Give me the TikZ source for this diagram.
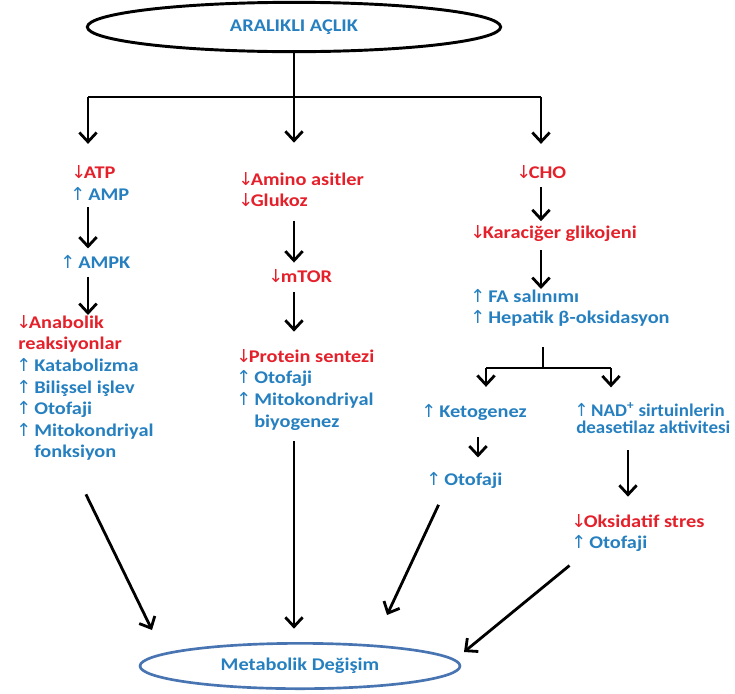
\documentclass[tikz,border=0pt]{standalone}
\usepackage{fontspec}
\setmainfont{Carlito}[FakeStretch=1.14]
\newfontfamily\arrfont{DejaVu Sans}
\usetikzlibrary{arrows.meta, shapes.geometric}

\definecolor{redtxt}{RGB}{228,32,42}
\definecolor{bluetxt}{RGB}{38,128,192}
\definecolor{ellblue}{RGB}{72,116,178}

\newcommand{\upar}{{\arrfont\mdseries\kern-0.1em↑\kern-0.1em}}
\newcommand{\dnar}{{\arrfont\mdseries\kern-0.1em↓\kern-0.15em}}
\newcommand{\up}[1]{\textcolor{bluetxt}{\upar\ #1}}
\newcommand{\dn}[1]{\textcolor{redtxt}{\dnar#1}}

\begin{document}
\begin{tikzpicture}[x=0.75pt, y=-0.75pt,
    txt/.style={inner sep=0pt, font=\bfseries\fontsize{13.4}{16.2}\selectfont, align=left},
    line/.style={line width=2.1pt},
    arr/.style={line, -{Straight Barb[length=7pt, width=13pt, line width=2.1pt]}},
    topell/.style={ellipse, draw, line width=2.2pt, minimum width=310pt, minimum height=37pt,
        text=bluetxt, font=\bfseries\fontsize{13.4}{15}\selectfont},
    botell/.style={ellipse, draw=ellblue, line width=2pt, minimum width=240pt, minimum height=34pt,
        text=bluetxt, font=\bfseries\fontsize{13.4}{15}\selectfont}]

    \useasboundingbox (0,0) rectangle (735,693);

    % ==========================================
    % 1. START AND END
    % ==========================================
    \node[topell] (fast) at (294,27) {ARALIKLI AÇLIK};
    \node[botell] (met) at (300,666) {Metabolik Değişim};

    \coordinate (hub) at (294,97);
    \coordinate (barL) at (88,97);
    \coordinate (barR) at (541,97);

    % ==========================================
    % 2. TEXT BLOCKS
    % ==========================================
    % left column
    \node[txt, anchor=base west] (atp) at (73,178.5) {\dn{ATP}};
    \node[txt, anchor=base west] (amp) at (72,200.5) {\up{AMP}};
    \node[txt, anchor=base west] (ampk) at (62,268.5) {\up{AMPK}};
    \node[txt, anchor=north west] (ana) at (18,315) {\dn{Anabolik}\\
        \textcolor{redtxt}{reaksiyonlar}\\
        \up{Katabolizma}\\
        \up{Bilişsel işlev}\\
        \up{Otofaji}\\
        \up{Mitokondriyal}\\
        \textcolor{bluetxt}{\hphantom{\upar\ }fonksiyon}};

    % middle column
    \node[txt, anchor=north west] (amino) at (240,172) {\dn{Amino asitler}\\ \dn{Glukoz}};
    \node[txt, anchor=base west] (mtor) at (270,282.5) {\dn{mTOR}};
    \node[txt, anchor=north west] (prot) at (238,349) {\dn{Protein sentezi}\\
        \up{Otofaji}\\
        \up{Mitokondriyal}\\
        \textcolor{bluetxt}{\hphantom{\upar\ }biyogenez}};

    % right column
    \node[txt, anchor=base west] (cho) at (518,178.5) {\dn{CHO}};
    \node[txt, anchor=base west] (kar) at (472,238.5) {\dn{Karaciğer glikojeni}};
    \node[txt, anchor=north west] (fa) at (472,289) {\up{FA salınımı}\\ \up{Hepatik β-oksidasyon}};
    \node[txt, anchor=base west] (keto) at (423,417.5) {\up{Ketogenez}};
    \node[txt, anchor=north west, xscale=0.93, transform shape,
        font=\bfseries\fontsize{13.4}{13.2}\selectfont] (nad) at (576,402)
        {\up{NAD\textsuperscript{+} sirtuinlerin}\\
        \textcolor{bluetxt}{deasetilaz aktivitesi}};
    \node[txt, anchor=base west] (oto) at (428,485.5) {\up{Otofaji}};
    \node[txt, anchor=north west] (oks) at (573,514) {\dn{Oksidatif stres}\\ \up{Otofaji}};

    \coordinate (hub2) at (543,368);
    \coordinate (kbL) at (486,368);
    \coordinate (kbR) at (611,368);

    % ==========================================
    % 3. CONNECTORS
    % ==========================================
    \draw[line] (fast.south -| hub) -- (hub);
    \draw[line] (barL) -- (barR);
    \draw[arr, shorten >=16pt] (barL) -- (atp.north -| barL);
    \draw[arr, shorten >=22pt] (hub) -- (amino.north -| hub);
    \draw[arr, shorten >=16pt] (barR) -- (cho.north -| barR);

    \draw[arr, shorten <=5pt, shorten >=5pt] (amp.south -| barL) -- (ampk.north -| barL);
    \draw[arr, shorten <=6pt] (ampk.south -| barL) -- (ana.north -| barL);

    \draw[arr, shorten <=10pt, shorten >=5pt] (amino.south -| hub) -- (mtor.north -| hub);
    \draw[arr, shorten <=7pt, shorten >=13pt] (mtor.south -| hub) -- (prot.north -| hub);

    \draw[arr, shorten <=6pt, shorten >=3pt] (cho.south -| barR) -- (kar.north -| barR);
    \draw[arr, shorten <=6pt] (kar.south -| barR) -- (fa.north -| barR);
    \draw[line, shorten <=15pt] (fa.south -| hub2) -- (hub2);
    \draw[line] (kbL) -- (kbR);
    \draw[arr, shorten >=13pt] (kbL) -- (keto.north -| kbL);
    \draw[arr, shorten >=11pt] (kbR) -- (nad.north -| kbR);
    \draw[arr, shorten <=12pt, shorten >=11pt] (keto.south -| 478,0) -- (oto.north -| 478,0);
    \draw[arr, shorten <=12pt, shorten >=13pt] (nad.south -| 628,0) -- (oks.north -| 628,0);

    % into the end state
    \draw[arr] ([yshift=-25pt]ana.south) -- ([shift={(-148,-36)}]met.center);
    \draw[arr, shorten <=8pt, shorten >=10pt] (prot.south -| hub) -- (met.north -| hub);
    \draw[arr] ([xshift=-20pt, yshift=-12pt]oto.south) -- ([shift={(87,-51)}]met.center);
    \draw[arr] ([xshift=-52pt, yshift=-10pt]oks.south) -- ([shift={(164,-14)}]met.center);

\end{tikzpicture}
\end{document}
